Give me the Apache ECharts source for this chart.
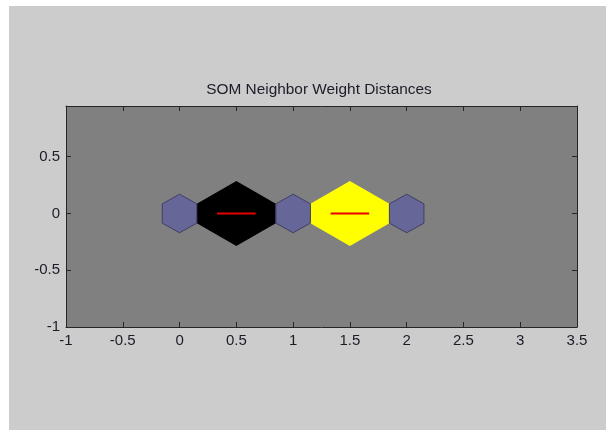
<!DOCTYPE html>
<html>
<head>
<meta charset="utf-8">
<script src="https://cdn.jsdelivr.net/npm/echarts@6/dist/echarts.min.js"></script>
<style>
  html, body { margin: 0; padding: 0; background: #ffffff; }
  #chart { position: absolute; left: 9px; top: 6px; width: 597px; height: 424px; }
</style>
</head>
<body>
<div id="chart"></div>
<script>
// ---- data ----
const chartTitle = 'SOM Neighbor Weight Distances';
const neuronX = [0, 1, 2];
const neuronY = [0, 0, 0];
// neighbor pairs (neuron index a, neuron index b) and their normalized weight distance
const pairA = [0, 1];
const pairB = [1, 2];
const pairDist = [1, 0];
const xTicks = [-1, -0.5, 0, 0.5, 1, 1.5, 2, 2.5, 3, 3.5];
const yTicks = [-1, -0.5, 0, 0.5];
const xMin = -1, xMax = 3.5, yMin = -1, yMax = 0.947;

// ---- shapes (data units) ----
const HW = 0.152, SH = 0.085, TOP = 0.17, PEAK = 0.287, LINE_HALF = 0.17;
const hexDX = [0, HW, HW, 0, -HW, -HW];
const hexDY = [TOP, SH, -SH, -TOP, -SH, SH];

const neuronData = neuronX.map((x, i) => [x, neuronY[i]]);
const pairData = pairA.map((a, i) => [a, pairB[i], pairDist[i]]);

function distColor(d) {
  const v = Math.round(255 * (1 - d));
  return 'rgb(' + v + ',' + v + ',0)';
}

function inList(list, v) {
  return list.some(t => Math.abs(t - v) < 1e-6);
}

const font = "'Liberation Sans', Arial, sans-serif";
const textColor = '#1c1c28';
const axisColor = '#262626';

const chart = echarts.init(document.getElementById('chart'));
chart.setOption({
  backgroundColor: '#cccccc',
  animation: false,
  title: {
    text: chartTitle,
    left: 305,
    top: 71,
    textAlign: 'center',
    textStyle: { fontFamily: font, fontSize: 15.4, fontWeight: 'normal', color: textColor }
  },
  grid: {
    left: 57, top: 100, right: 29, bottom: 103,
    show: true, backgroundColor: '#808080', borderWidth: 0
  },
  xAxis: [{
    type: 'value', min: xMin, max: xMax, interval: 0.5, position: 'bottom',
    axisLine: { show: true, onZero: false, lineStyle: { color: axisColor, width: 1 } },
    axisTick: { show: true, inside: true, length: 5, lineStyle: { color: axisColor } },
    axisLabel: {
      show: true, margin: 6, fontFamily: font, fontSize: 15, color: textColor,
      showMinLabel: true, showMaxLabel: true,
      formatter: v => inList(xTicks, v) ? String(v) : ''
    },
    splitLine: { show: false }
  }, {
    type: 'value', min: xMin, max: xMax, interval: 0.5, position: 'top',
    axisLine: { show: true, onZero: false, lineStyle: { color: axisColor, width: 1 } },
    axisTick: { show: true, inside: true, length: 5, lineStyle: { color: axisColor } },
    axisLabel: { show: false },
    splitLine: { show: false }
  }],
  yAxis: [{
    type: 'value', min: yMin, max: yMax, interval: 0.5, position: 'left',
    axisLine: { show: true, onZero: false, lineStyle: { color: axisColor, width: 1 } },
    axisTick: { show: true, inside: true, length: 5, lineStyle: { color: axisColor } },
    axisLabel: {
      show: true, margin: 6, fontFamily: font, fontSize: 15, color: textColor,
      formatter: v => inList(yTicks, v) ? String(v) : ''
    },
    splitLine: { show: false }
  }, {
    type: 'value', min: yMin, max: yMax, interval: 0.5, position: 'right',
    axisLine: { show: true, onZero: false, lineStyle: { color: axisColor, width: 1 } },
    axisTick: { show: true, inside: true, length: 5, lineStyle: { color: axisColor } },
    axisLabel: { show: false },
    splitLine: { show: false }
  }],
  series: [{
    name: 'distances',
    type: 'custom',
    xAxisIndex: 0, yAxisIndex: 0,
    data: pairData,
    renderItem: function (params, api) {
      const a = api.value(0), b = api.value(1), d = api.value(2);
      const x1 = neuronX[a], y1 = neuronY[a], x2 = neuronX[b], y2 = neuronY[b];
      const mx = (x1 + x2) / 2, my = (y1 + y2) / 2;
      const pts = [
        [x1 + HW, y1 + SH], [mx, my + PEAK], [x2 - HW, y2 + SH],
        [x2 - HW, y2 - SH], [mx, my - PEAK], [x1 + HW, y1 - SH]
      ].map(p => api.coord(p));
      return {
        type: 'polygon',
        shape: { points: pts },
        style: { fill: distColor(d), stroke: 'none' }
      };
    }
  }, {
    name: 'connections',
    type: 'custom',
    xAxisIndex: 0, yAxisIndex: 0,
    data: pairData,
    z: 3,
    renderItem: function (params, api) {
      const a = api.value(0), b = api.value(1);
      const mx = (neuronX[a] + neuronX[b]) / 2, my = (neuronY[a] + neuronY[b]) / 2;
      const p1 = api.coord([mx - LINE_HALF, my]);
      const p2 = api.coord([mx + LINE_HALF, my]);
      return {
        type: 'line',
        shape: { x1: p1[0], y1: p1[1], x2: p2[0], y2: p2[1] },
        style: { stroke: '#e80000', lineWidth: 2 }
      };
    }
  }, {
    name: 'neurons',
    type: 'custom',
    xAxisIndex: 0, yAxisIndex: 0,
    data: neuronData,
    z: 4,
    renderItem: function (params, api) {
      const cx = api.value(0), cy = api.value(1);
      const pts = hexDX.map((dx, i) => api.coord([cx + dx, cy + hexDY[i]]));
      return {
        type: 'polygon',
        shape: { points: pts },
        style: { fill: '#666699', stroke: '#3f3f63', lineWidth: 1 }
      };
    }
  }]
});
</script>
</body>
</html>
